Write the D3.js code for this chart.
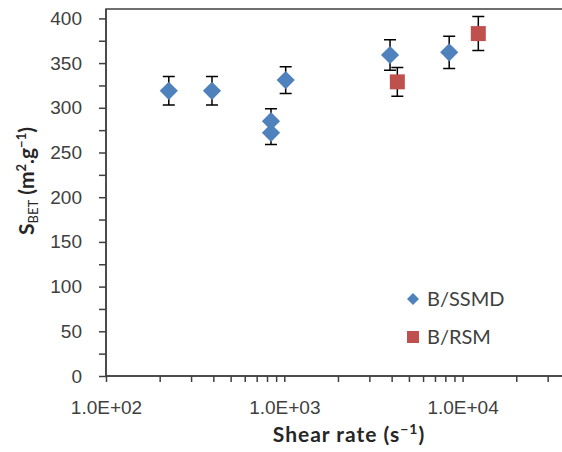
<!DOCTYPE html>
<html lang="en">
<head>
  <meta charset="UTF-8">
  <title>S_BET vs shear rate</title>
  <script src="https://d3js.org/d3.v7.min.js"></script>
  <style>
    body { margin: 0; background: #fff; }
    svg { display: block; font-family: Lato, "Open Sans", sans-serif; }
    .tick text { font-size: 19px; fill: #404040; }
    .axis path, .axis line { stroke: #404040; stroke-width: 1.5px; }
    .title { font-size: 21px; font-weight: bold; fill: #262626; }
    .legend { font-size: 20px; fill: #404040; }
  </style>
</head>
<body>
  <div id="chart"></div>
  <script>
    // B/SSMD series
    const shearSSMD = [225, 393, 842, 842, 1018, 3917, 8410];
    const sbetSSMD  = [319, 319, 285, 272, 331, 359, 362];
    const errSSMD   = [16, 16, 14, 13, 15, 17, 18];
    // B/RSM series
    const shearRSM = [4305, 12250];
    const sbetRSM  = [329, 383];
    const errRSM   = [16, 19];

    const yTicks = [0, 50, 100, 150, 200, 250, 300, 350, 400];
    const xTicks = [1e2, 1e3, 1e4];

    const W = 562, H = 452;
    const plotLeft = 106, plotTop = 9, plotBottom = 376;
    const decade = 178.3;

    const svg = d3.select("#chart").append("svg")
      .attr("width", W).attr("height", H);

    const x = d3.scaleLog().domain([1e2, 1e5]).range([plotLeft, plotLeft + 3 * decade]);
    const y = d3.scaleLinear().domain([0, 410.5]).range([plotBottom, plotTop]);

    // plot frame (right edge falls outside the picture)
    svg.append("rect")
      .attr("x", plotLeft).attr("y", plotTop)
      .attr("width", x(1e5) - plotLeft).attr("height", plotBottom - plotTop)
      .attr("fill", "none").attr("stroke", "#404040").attr("stroke-width", 1.5);

    // y axis
    const yAxis = svg.append("g").attr("class", "axis")
      .attr("transform", `translate(${plotLeft},0)`)
      .call(d3.axisLeft(y).tickValues(d3.range(0, 401, 25)).tickSize(7).tickSizeOuter(0)
        .tickFormat(d => yTicks.includes(d) ? d : ""));
    yAxis.selectAll(".tick text").attr("x", -24);
    yAxis.select(".domain").remove();
    yAxis.append("line").attr("y1", plotTop).attr("y2", plotBottom).attr("stroke", "#404040").attr("stroke-width", 1.5);

    // x axis
    const minor = [];
    for (let p = 2; p < 5; p++) for (let m = 1; m < 10; m++) minor.push(m * Math.pow(10, p));
    const xAxis = svg.append("g").attr("class", "axis")
      .attr("transform", `translate(0,${plotBottom})`)
      .call(d3.axisBottom(x).tickValues(minor).tickSize(6).tickSizeOuter(0)
        .tickFormat(d => xTicks.includes(d) ? d3.format(".1e")(d).toUpperCase().replace(/E\+(\d)$/, "E+0$1") : ""));
    xAxis.selectAll(".tick text").attr("y", 25);
    xAxis.select(".domain").remove();
    xAxis.append("line").attr("x1", plotLeft).attr("x2", W).attr("stroke", "#404040").attr("stroke-width", 1.5);

    // error bars + markers
    function drawSeries(xs, ys, es, color, shape, size, rot) {
      const data = xs.map((v, i) => ({ x: v, y: ys[i], e: es[i] }));
      const g = svg.append("g");
      g.selectAll(".eb").data(data).enter().append("path")
        .attr("d", d => {
          const cx = x(d.x), y1 = y(d.y + d.e), y2 = y(d.y - d.e);
          return `M${cx},${y1}V${y2}M${cx - 6},${y1}H${cx + 6}M${cx - 6},${y2}H${cx + 6}`;
        })
        .attr("stroke", "#000").attr("stroke-width", 1.5).attr("fill", "none");
      g.selectAll(".mk").data(data).enter().append("path")
        .attr("d", d3.symbol().type(shape).size(size))
        .attr("transform", d => `translate(${x(d.x)},${y(d.y)}) rotate(${rot})`)
        .attr("fill", color);
    }
    drawSeries(shearSSMD, sbetSSMD, errSSMD, "#4F81BD", d3.symbolSquare, 165, 45);
    drawSeries(shearRSM, sbetRSM, errRSM, "#C0504D", d3.symbolSquare, 225, 0);

    // legend
    const lg = svg.append("g");
    lg.append("path").attr("d", d3.symbol().type(d3.symbolSquare).size(72))
      .attr("transform", "translate(413,299) rotate(45)").attr("fill", "#4F81BD");
    lg.append("text").attr("class", "legend").attr("x", 427).attr("y", 306).text("B/SSMD");
    lg.append("path").attr("d", d3.symbol().type(d3.symbolSquare).size(144))
      .attr("transform", "translate(413,337)").attr("fill", "#C0504D");
    lg.append("text").attr("class", "legend").attr("x", 427).attr("y", 344).text("B/RSM");

    // axis titles
    const xt = svg.append("text").attr("class", "title")
      .attr("x", 349).attr("y", 442).attr("text-anchor", "middle")
      .attr("letter-spacing", 1);
    xt.append("tspan").text("Shear rate (s");
    xt.append("tspan").attr("font-size", 14).attr("dy", -8).text("\u22121");
    xt.append("tspan").attr("dy", 8).text(")");

    const yt = svg.append("text").attr("class", "title")
      .attr("transform", "translate(34,181) rotate(-90)").attr("text-anchor", "middle");
    yt.append("tspan").text("S");
    yt.append("tspan").attr("font-size", 13).attr("font-weight", "normal").attr("dy", 4).text("BET");
    yt.append("tspan").attr("dy", -4).text(" (m");
    yt.append("tspan").attr("font-size", 13).attr("dy", -8).text("2");
    yt.append("tspan").attr("dy", 8).text(".g");
    yt.append("tspan").attr("font-size", 13).attr("dy", -8).text("\u22121");
    yt.append("tspan").attr("dy", 8).text(")");
  </script>
</body>
</html>
